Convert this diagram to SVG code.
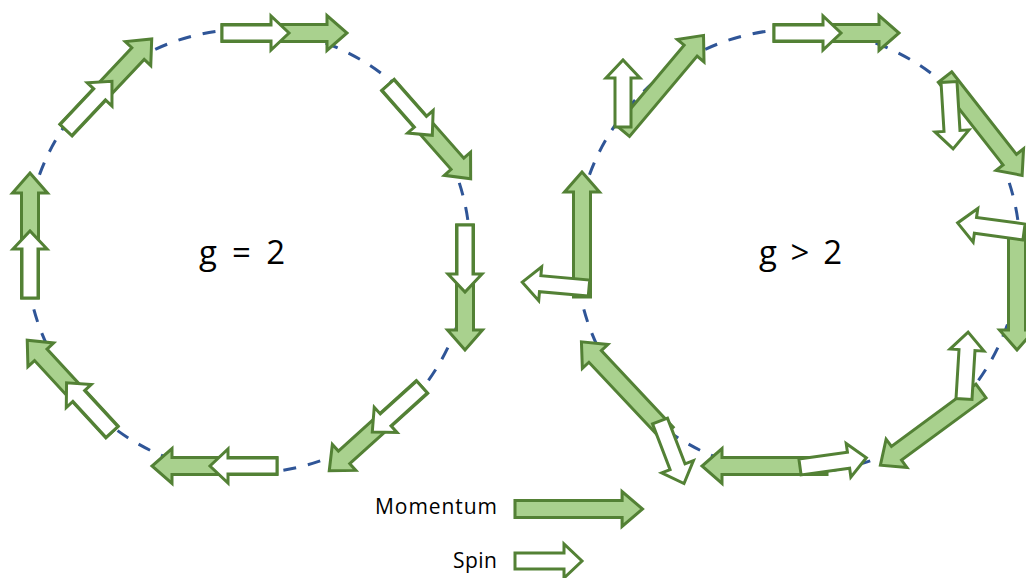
<svg xmlns="http://www.w3.org/2000/svg" xmlns:xlink="http://www.w3.org/1999/xlink" width="1026" height="578" viewBox="0 0 1026 578">
<style>
.orbit{fill:none;stroke:#2f5597;stroke-width:3;stroke-dasharray:13 12}
.m{fill:#a9d18e;stroke:#538135;stroke-width:3;stroke-linejoin:miter}
.s{fill:#ffffff;stroke:#538135;stroke-width:3;stroke-linejoin:miter}
.lbl{font-family:"Open Sans","Liberation Sans",sans-serif;fill:#000}
.big{font-size:33px}
.small{font-size:21px}
</style>
<defs>
<path id="mom" d="M0,-8.5 H105 V-17.5 L125,0 L105,17.5 V8.5 H0 Z"/>
<path id="spin" d="M0,-8 H49 V-17 L67,0 L49,17 V8 H0 Z"/>
</defs>
<g id="orbits">
<circle class="orbit" cx="248" cy="251" r="222"/>
<circle class="orbit" cx="798" cy="251" r="222"/>
</g>
<g id="g2-arrows">
<g id="L1"><use href="#mom" class="m" transform="translate(222,33)"/><use href="#spin" class="s" transform="translate(222,33)"/></g>
<g id="L2"><use href="#mom" class="m" transform="translate(388,85) rotate(48.6)"/><use href="#spin" class="s" transform="translate(388,85) rotate(48.6)"/></g>
<g id="L3"><use href="#mom" class="m" transform="translate(465,225) rotate(90)"/><use href="#spin" class="s" transform="translate(465,225) rotate(90)"/></g>
<g id="L4"><use href="#mom" class="m" transform="translate(422,387) rotate(137.9)"/><use href="#spin" class="s" transform="translate(422,387) rotate(137.9)"/></g>
<g id="L5"><use href="#mom" class="m" transform="translate(277,466) rotate(180)"/><use href="#spin" class="s" transform="translate(277,466) rotate(180)"/></g>
<g id="L6"><use href="#mom" class="m" transform="translate(112,432) rotate(-132.7)"/><use href="#spin" class="s" transform="translate(112,432) rotate(-132.7)"/></g>
<g id="L7"><use href="#mom" class="m" transform="translate(30,298) rotate(-90)"/><use href="#spin" class="s" transform="translate(30,298) rotate(-90)"/></g>
<g id="L8"><use href="#mom" class="m" transform="translate(66,130) rotate(-46.7)"/><use href="#spin" class="s" transform="translate(66,130) rotate(-46.7)"/></g>
</g>
<g id="g-gt2-arrows">
<g id="R1"><use href="#mom" class="m" transform="translate(774,33)"/><use href="#spin" class="s" transform="translate(774,33)"/></g>
<g id="R2"><use href="#mom" class="m" transform="translate(945,77) rotate(51.9)"/><use href="#spin" class="s" transform="translate(949,82) rotate(86.5)"/></g>
<g id="R3"><use href="#mom" class="m" transform="translate(1017,225) rotate(90)"/><use href="#spin" class="s" transform="translate(1024,232) rotate(187.8)"/></g>
<g id="R4"><use href="#mom" class="m" transform="translate(981,391) rotate(143.6)"/><use href="#spin" class="s" transform="translate(964,399) rotate(-86.5)"/></g>
<g id="R5"><use href="#mom" class="m" transform="translate(827,466) rotate(180)"/><use href="#spin" class="s" transform="translate(800,467) rotate(-7.9)"/></g>
<g id="R6"><use href="#mom" class="m" transform="translate(667,433) rotate(-133.2)"/><use href="#spin" class="s" transform="translate(660,421) rotate(69)"/></g>
<g id="R7"><use href="#mom" class="m" transform="translate(582,297) rotate(-90)"/><use href="#spin" class="s" transform="translate(589,288) rotate(185)"/></g>
<g id="R8"><use href="#mom" class="m" transform="translate(623,131) rotate(-49.9)"/><use href="#spin" class="s" transform="translate(623,127) rotate(-90)"/></g>
</g>
<g id="label-g2"><text class="lbl big" x="199" y="264" textLength="86" lengthAdjust="spacing">g = 2</text></g>
<g id="label-ggt2"><text class="lbl big" x="759" y="264" textLength="83" lengthAdjust="spacing">g &gt; 2</text></g>
<g id="legend">
<text class="lbl small" x="375" y="514" textLength="122" lengthAdjust="spacing">Momentum</text>
<use href="#mom" class="m" transform="translate(515,509) scale(1.02,1)"/>
<text class="lbl small" x="453" y="568" textLength="44" lengthAdjust="spacing">Spin</text>
<use href="#spin" class="s" transform="translate(515,561)"/>
</g>
</svg>
